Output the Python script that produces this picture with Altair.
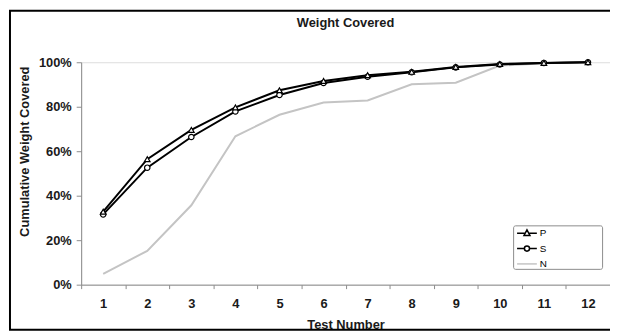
import altair as alt
import pandas as pd

tests = list(range(1, 13))
series_names = ["P", "S", "N"]
p_vals = [0.328, 0.564, 0.696, 0.797, 0.874, 0.916, 0.942, 0.957, 0.979, 0.992, 0.997, 1.0]
s_vals = [0.316, 0.526, 0.664, 0.779, 0.853, 0.907, 0.935, 0.955, 0.977, 0.990, 0.997, 1.0]
n_vals = [0.049, 0.152, 0.357, 0.667, 0.764, 0.819, 0.828, 0.901, 0.908, 0.985, 0.996, 1.0]
y_ticks = [0, 0.2, 0.4, 0.6, 0.8, 1.0]

rows = []
for name, vals in [("N", n_vals), ("S", s_vals), ("P", p_vals)]:
    for t, v in zip(tests, vals):
        rows.append({"Test": t, "value": v, "series": name})
df = pd.DataFrame(rows)

FONT = "Liberation Sans"
TXT = "#1a1a1a"

x_enc = alt.X(
    "Test:O",
    bandPosition=0.5,
    scale=alt.Scale(type="band", paddingInner=0, paddingOuter=0),
    axis=alt.Axis(
        tickBand="extent", labelAngle=0, tickSize=4, labelPadding=9,
        domainColor="#8c8c8c", tickColor="#8c8c8c",
        labelFont=FONT, labelFontSize=13, labelFontWeight="bold", labelColor=TXT,
        title="Test Number", titleFont=FONT, titleFontSize=13, titleFontWeight="bold",
        titleColor=TXT, titleY=44, titleBaseline="alphabetic",
    ),
)
y_enc = alt.Y(
    "value:Q",
    scale=alt.Scale(domain=[0, 1], nice=False, zero=True),
    axis=alt.Axis(
        values=y_ticks, format=".0%", grid=False, tickSize=5, labelPadding=5,
        domainColor="#8c8c8c", tickColor="#8c8c8c",
        labelFont=FONT, labelFontSize=13, labelFontWeight="bold", labelColor=TXT,
        title="Cumulative Weight Covered", titleFont=FONT, titleFontSize=13,
        titleFontWeight="bold", titleColor=TXT, titleAngle=270,
        titleX=-57, titleY=90, titleAlign="center", titleBaseline="middle",
    ),
)

colors = {"P": "#000000", "S": "#000000", "N": "#c4c4c4"}
stroke_scale = alt.Scale(domain=series_names, range=[colors[s] for s in series_names])
tri_path = "M-2,0H-0.45M0.45,0H2M0,-0.68L0.6,0.44L-0.6,0.44Z"
circ_path = "M-2,0H-0.52M0.52,0H2M0.52,0A0.52,0.52,0,1,1,-0.52,0A0.52,0.52,0,1,1,0.52,0Z"
line_path = "M-2,0H2"
shape_scale = alt.Scale(domain=series_names, range=[tri_path, circ_path, line_path])

legend = alt.Legend(
    orient="none", legendX=445, legendY=167, title=None,
    symbolSize=100, symbolStrokeWidth=1.5,
    labelFont=FONT, labelFontSize=10, labelColor="#000000", labelOffset=7,
    padding=0, rowPadding=3.5,
)

base = alt.Chart(df)

frame = alt.Chart(alt.Data(values=[{}])).mark_rect(
    fill="transparent", stroke="#000000", strokeWidth=2
).encode(
    x=alt.value(-72), x2=alt.value(560), y=alt.value(-52), y2=alt.value(270.5)
)

legend_box = alt.Chart(alt.Data(values=[{}])).mark_rect(
    fill="white", stroke="#8c8c8c", strokeWidth=1, cornerRadius=2
).encode(
    x=alt.value(437.5), x2=alt.value(527.5), y=alt.value(165.5), y2=alt.value(209.5)
)

def line_layer(name):
    return base.transform_filter(alt.datum.series == name).mark_line(
        strokeWidth=2, stroke=colors[name]
    ).encode(x=x_enc, y=y_enc)

markers_s = base.transform_filter(alt.datum.series == "S").mark_point(
    shape="circle", filled=True, fill="white", stroke="#000000", strokeWidth=1.2, size=30, opacity=1
).encode(x=x_enc, y=y_enc)

markers_p = base.transform_filter(alt.datum.series == "P").mark_point(
    shape="triangle-up", filled=True, fill="white", stroke="#000000", strokeWidth=1.2, size=32, opacity=1
).encode(x=x_enc, y=y_enc)

legend_src = base.transform_calculate(value="-1").mark_point(
    clip=True, filled=True, fill="white", strokeWidth=1.5, size=100, opacity=1
).encode(
    x=x_enc, y=y_enc,
    stroke=alt.Stroke("series:N", scale=stroke_scale, legend=legend),
    shape=alt.Shape("series:N", scale=shape_scale, legend=legend),
)

chart = alt.layer(
    frame, legend_box, line_layer("N"), line_layer("S"), line_layer("P"),
    markers_s, markers_p, legend_src
).properties(
    width=535, height=225,
    padding={"left": 74, "top": 53, "right": 0, "bottom": 47},
    autosize="none",
    title=alt.TitleParams(
        "Weight Covered", font=FONT, fontSize=13, fontWeight="bold",
        color=TXT, anchor="middle", offset=-20, frame="group",
    ),
).configure_view(stroke=None).configure(background="white")

chart.save("out.html", embed_options={"renderer": "svg", "actions": False})
